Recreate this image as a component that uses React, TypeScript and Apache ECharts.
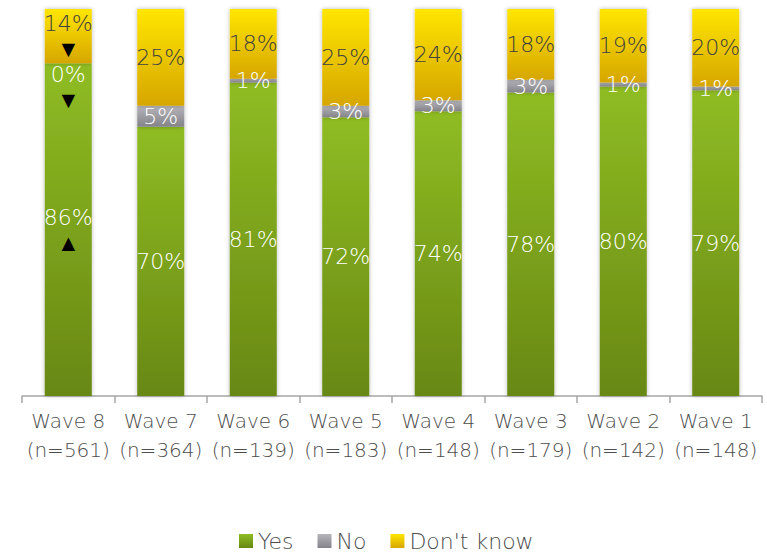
import React, { useEffect, useRef } from 'react';
import * as echarts from 'echarts';

const waves = ['Wave 8', 'Wave 7', 'Wave 6', 'Wave 5', 'Wave 4', 'Wave 3', 'Wave 2', 'Wave 1'];
const sampleSizes = [561, 364, 139, 183, 148, 179, 142, 148];
const yesValues = [86, 69.6, 81, 72, 73.6, 78.4, 80, 79];
const noValues = [0, 5.4, 1, 3, 2.8, 3.3, 1, 1];
const dontKnowValues = [14, 25, 18, 25, 23.6, 18.3, 19, 20];
const yesMarks = ['▲', '', '', '', '', '', '', ''];
const noMarks = ['▼', '', '', '', '', '', '', ''];
const dontKnowMarks = ['▼', '', '', '', '', '', '', ''];
const seriesNames = ['Yes', 'No', "Don't know"];

const FONT = 'DejaVu Sans';

function grad(top: string, bottom: string) {
  return new echarts.graphic.LinearGradient(0, 0, 0, 1, [
    { offset: 0, color: top },
    { offset: 1, color: bottom },
  ]);
}

export default function App() {
  const ref = useRef<HTMLDivElement>(null);
  useEffect(() => {
    document.body.style.margin = '0';
    if (!ref.current) return;
    const chart = echarts.init(ref.current, undefined, { renderer: 'svg' });
    const categories = waves.map((w, i) => `${w}\n(n=${sampleSizes[i]})`);

    const makeLabel = (marks: string[], color: string) => ({
      show: true,
      position: 'inside',
      color,
      fontFamily: FONT,
      fontWeight: 200,
      fontSize: 22,
      lineHeight: 26,
      formatter: (p: any) => {
        const m = marks[p.dataIndex];
        const t = `${Math.round(p.value)}%`;
        return m ? `${t}\n{tri|${m}}` : t;
      },
      rich: {
        tri: { fontSize: 23, color: '#000', lineHeight: 25, fontFamily: FONT },
      },
    });

    const shadow = { shadowBlur: 4, shadowColor: 'rgba(0,0,0,0.28)', shadowOffsetX: 0 };

    chart.setOption({
      animation: false,
      grid: { left: 22, right: 5, top: 9, bottom: 157 },
      legend: {
        data: seriesNames,
        top: 525,
        left: 234,
        itemWidth: 14,
        itemHeight: 14,
        itemGap: 24,
        icon: 'rect',
        textStyle: { fontFamily: FONT, fontWeight: 200, fontSize: 22, color: '#4D4D4D' },
      },
      xAxis: {
        type: 'category',
        data: categories,
        axisLine: { lineStyle: { color: '#A6A6A6', width: 1.5 } },
        axisTick: { show: true, length: 7, lineStyle: { color: '#A6A6A6', width: 1.5 } },
        axisLabel: {
          interval: 0,
          fontFamily: FONT,
          fontWeight: 200,
          fontSize: 20,
          lineHeight: 29,
          color: '#4D4D4D',
          margin: 10,
        },
      },
      yAxis: { type: 'value', min: 0, max: 100, show: false, splitLine: { show: false } },
      series: [
        {
          name: 'Yes',
          type: 'bar',
          stack: 'all',
          barWidth: 47,
          data: yesValues,
          itemStyle: { color: grad('#8FBC23', '#688814'), ...shadow },
          label: makeLabel(yesMarks, '#FFFFFF'),
        },
        {
          name: 'No',
          type: 'bar',
          stack: 'all',
          barWidth: 47,
          data: noValues.map((v, i) =>
            i === 0 ? { value: v, label: { offset: [0, 24] } } : v
          ),
          itemStyle: { color: grad('#B6B5BA', '#84838A'), ...shadow },
          label: makeLabel(noMarks, '#FFFFFF'),
        },
        {
          name: "Don't know",
          type: 'bar',
          stack: 'all',
          barWidth: 47,
          data: dontKnowValues,
          itemStyle: { color: grad('#FFE600', '#D6A600'), ...shadow },
          label: makeLabel(dontKnowMarks, '#404040'),
        },
      ],
    });
    return () => chart.dispose();
  }, []);
  return <div ref={ref} style={{ width: 767, height: 553 }} />;
}
